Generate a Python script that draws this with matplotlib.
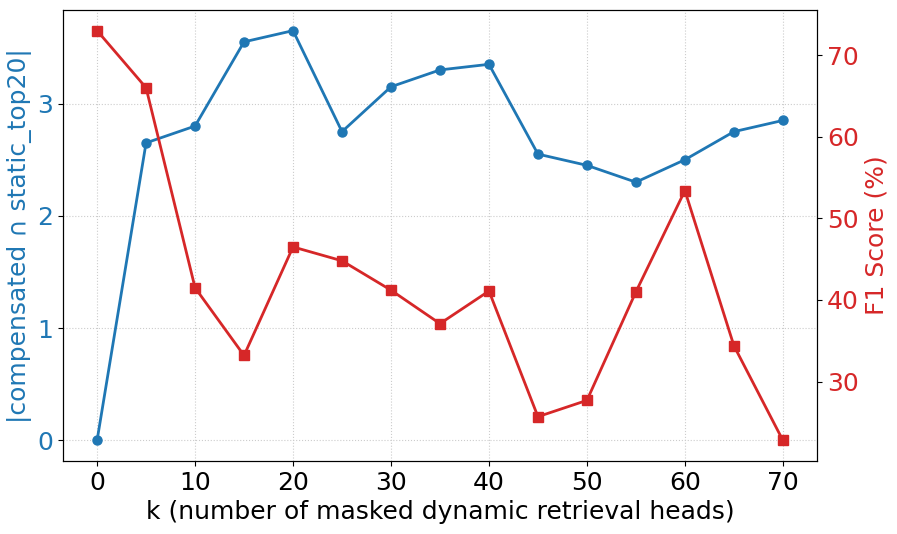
import matplotlib.pyplot as plt

# k values (number of masked dynamic retrieval heads)
k_values = [0, 5, 10, 15, 20, 25, 30, 35, 40, 45, 50, 55, 60, 65, 70]

# |compensated ∩ static_top20|
overlap = [0.0, 2.65, 2.80, 3.55, 3.65, 2.75, 3.15, 3.30, 3.35,
           2.55, 2.45, 2.30, 2.50, 2.75, 2.85]

# F1 score (%)
f1_scores = [73.0, 66.0, 41.5, 33.2, 46.5, 44.8, 41.2, 37.1, 41.1,
             25.7, 27.7, 41.0, 53.4, 34.4, 22.8]

blue = '#1f77b4'
red = '#d62728'

fig, ax1 = plt.subplots(figsize=(8.97, 5.34), dpi=100)

ax1.plot(k_values, overlap, color=blue, marker='o', markersize=6.5, linewidth=2)
ax1.set_xlabel('k (number of masked dynamic retrieval heads)', fontsize=18)
ax1.set_ylabel('|compensated ∩ static_top20|', color=blue, fontsize=18)
ax1.tick_params(axis='y', labelcolor=blue, labelsize=18)
ax1.tick_params(axis='x', labelsize=18)
ax1.set_xticks(range(0, 71, 10))
ax1.set_yticks([0, 1, 2, 3])
ax1.grid(True, linestyle=':', color='#cccccc', linewidth=0.8)

# Second axis for the F1 score
ax2 = ax1.twinx()
ax2.plot(k_values, f1_scores, color=red, marker='s', markersize=6.5, linewidth=2)
ax2.set_ylabel('F1 Score (%)', color=red, fontsize=18)
ax2.tick_params(axis='y', labelcolor=red, labelsize=18)
ax2.set_yticks([30, 40, 50, 60, 70])

fig.subplots_adjust(left=0.07, right=0.911, top=0.981, bottom=0.137)
fig.savefig('out.png')
